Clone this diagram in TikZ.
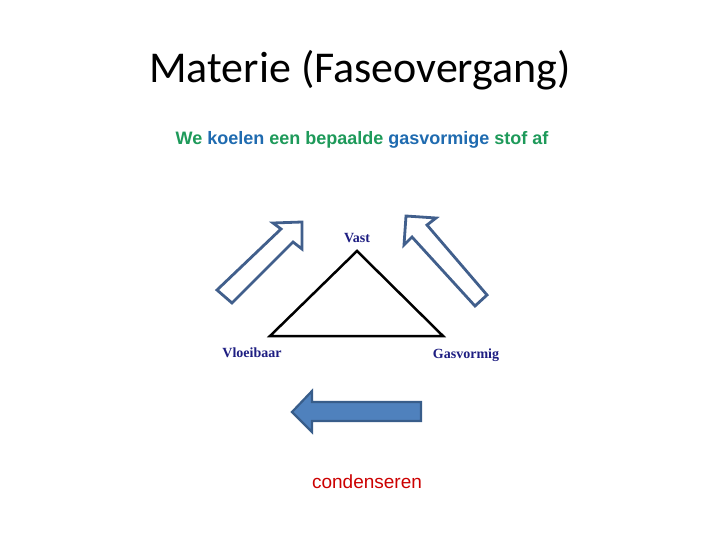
\documentclass[tikz,border=0pt]{standalone}
\usepackage{fontspec}
\setmainfont{Carlito}
\newfontfamily\arialfont{Liberation Sans}
\newfontfamily\timesfont{Liberation Serif}
\definecolor{subgreen}{RGB}{30,154,90}
\definecolor{subblue}{RGB}{31,107,176}
\definecolor{lblblue}{RGB}{30,30,130}
\definecolor{arrline}{RGB}{65,95,140}
\definecolor{arrfill}{RGB}{79,129,189}
\definecolor{arrstroke}{RGB}{56,93,138}
\definecolor{condred}{RGB}{204,0,0}
\begin{document}
\begin{tikzpicture}[x=1pt,y=-1pt,
  lbl/.style={font=\timesfont\bfseries\fontsize{14}{16}\selectfont,text=lblblue,anchor=base,inner sep=0pt},
  hollowarrow/.style={draw=arrline,line width=2.8pt,fill=white,line join=miter},
  solidarrow/.style={draw=arrstroke,line width=2.2pt,fill=arrfill,line join=miter}]
\useasboundingbox (0,0) rectangle (720,540);
\fill[white] (0,0) rectangle (720,540);
\node[anchor=base,inner sep=0pt,font=\fontsize{44}{50}\selectfont] (title) at (360,83) {Materie (Faseovergang)};
\node[anchor=base,inner sep=0pt,font=\arialfont\bfseries\fontsize{18}{20}\selectfont] (sub) at (362,145)
  {\textcolor{subgreen}{We} \textcolor{subblue}{koelen} \textcolor{subgreen}{een bepaalde} \textcolor{subblue}{gasvormige} \textcolor{subgreen}{stof af}};
% triangle
\coordinate (top) at (357,251);
\coordinate (bl) at (270,336);
\coordinate (br) at (443,336);
\draw[line width=2.5pt,line join=miter] (top) -- (br) -- (bl) -- cycle;
\node[lbl] (vast) at (357,242) {Vast};
\node[lbl] (vloei) at (252,357) {Vloeibaar};
\node[lbl] (gas) at (466,358) {Gasvormig};
% hollow arrows
\draw[hollowarrow] (217,290) -- (281,229) -- (273,223) -- (302,222) -- (302,249) -- (293,242) -- (232,303) -- cycle;
\draw[hollowarrow] (406,216) -- (436,218) -- (427,225) -- (487,295) -- (475,306) -- (412,237) -- (404,245) -- cycle;
% solid arrow
\draw[solidarrow] (292,412) -- (312,391) -- (312,402) -- (421,402) -- (421,421) -- (312,421) -- (312,432) -- cycle;
\node[anchor=base,inner sep=0pt,font=\arialfont\fontsize{19}{21}\selectfont,text=condred] (cond) at (367,488) {condenseren};
\end{tikzpicture}
\end{document}
